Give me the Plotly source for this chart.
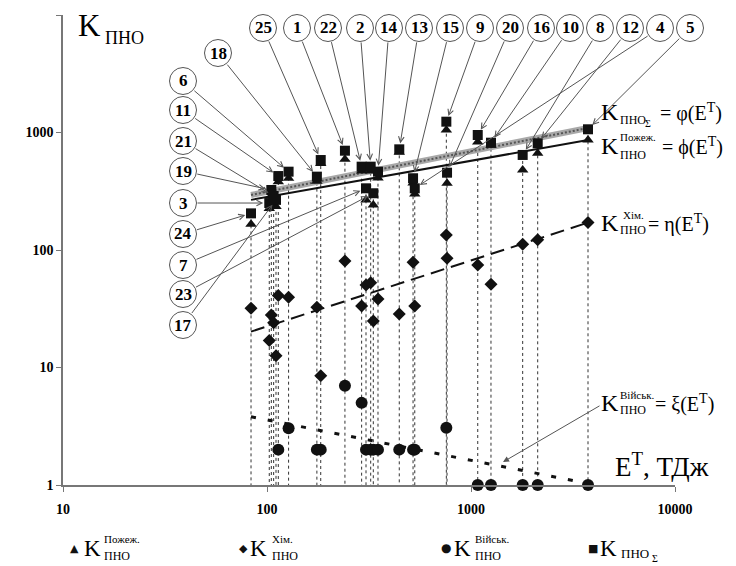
import numpy as np
import plotly.graph_objects as go

# ---------------- data ----------------
labels = ["24", "3", "19", "21", "17", "11", "6", "18", "25", "1", "22", "7", "2",
          "23", "14", "13", "15", "4", "9", "20", "16", "10", "8", "12", "5"]
energy = [83.5, 102.6, 105.0, 107.8, 110.7, 113.6, 127.6, 175.6, 183.4, 241, 291,
          305.7, 322.3, 332, 350, 445, 520, 530, 757, 763, 1079, 1253, 1792, 2123, 3746]
k_sum = [205, 251, 324, 288, 267, 426, 464, 421, 583, 700, 512, 335, 512,
         304, 464, 719, 408, 335, 1236, 455, 952, 819, 644, 809, 1065]
k_fire = [166, 225, 290, 260, 235, 381, 408, 385, 545, 591, 470, 267, 470,
          242, 410, 680, 372, 300, 1050, 370, 830, 780, 480, 665, 863]
k_chem = [32, 17, 28, 24, 12.6, 41, 39.6, 32.5, 8.5, 80.6, 33.4, 50.4, 52.7,
          24.9, 38.3, 28.5, 78.6, 33.4, 134, 85, 74.5, 51, 112, 122, 171]
k_mil = [None, None, None, None, None, 2, 3.04, 2, 2, 7, 5, 2, 2,
         2, 2, 2, 2, 2, 3.07, None, 1, 1, 1, 1, 1]

trend_x = [83.5, 3746]
trend_sum = [294, 1092]
trend_fire = [267, 863]
trend_chem = [20.2, 171]
trend_mil = [3.81, 1.03]

x_ticks = [10, 100, 1000, 10000]
y_ticks = [1, 10, 100, 1000, 10000]

# label circle centres (window pixels)
label_pos = {
    "18": (218, 53), "6": (183, 81), "11": (183, 110), "21": (183, 141),
    "19": (183, 171), "3": (183, 203), "24": (183, 234), "7": (183, 265),
    "23": (183, 294), "17": (183, 325),
    "25": (263, 28), "1": (297, 28), "22": (328, 28), "2": (360, 28),
    "14": (389, 28), "13": (419, 28), "15": (450, 28), "9": (480, 28),
    "20": (510, 28), "16": (541, 28), "10": (570, 28), "8": (600, 28),
    "12": (630, 28), "4": (660, 28), "5": (690, 28),
}

# ---------------- layout geometry ----------------
OFF = 8                      # page body margin
PL, PR, PT, PB = 63, 675, 15, 485   # plot area in window pixels
W, H = 736 - OFF, 566 - OFF
pw, ph = PR - PL, PB - PT

def px_x(v):
    return PL + pw * (np.log10(v) - 1) / 3

def px_y(v):
    return PT + ph * (4 - np.log10(v)) / 4

def pap_x(p):
    return (p - PL) / pw

def pap_y(p):
    return (PB - p) / ph

SERIF = "Liberation Serif"
INK = "#111111"

fig = go.Figure()

# vertical dotted drop lines
dx, dy = [], []
for e, s in zip(energy, k_sum):
    dx += [e, e, None]
    dy += [s, 1, None]
fig.add_trace(go.Scatter(x=dx, y=dy, mode="lines",
                         line=dict(color="#333333", width=1, dash="dot"),
                         hoverinfo="skip", showlegend=False))

# trend lines
fig.add_trace(go.Scatter(x=trend_x, y=trend_chem, mode="lines",
                         line=dict(color=INK, width=2, dash="14px,7px"), showlegend=False))
fig.add_trace(go.Scatter(x=trend_x, y=trend_mil, mode="lines",
                         line=dict(color=INK, width=3, dash="5px,12px"), showlegend=False))
fig.add_trace(go.Scatter(x=trend_x, y=trend_fire, mode="lines",
                         line=dict(color=INK, width=2), showlegend=False))
fig.add_trace(go.Scatter(x=trend_x, y=trend_sum, mode="lines",
                         line=dict(color="#a8a8a8", width=6), showlegend=False))
fig.add_trace(go.Scatter(x=trend_x, y=trend_sum, mode="lines",
                         line=dict(color="#555555", width=2, dash="2px,2px"), showlegend=False))

# markers
fig.add_trace(go.Scatter(x=energy, y=k_chem, mode="markers",
                         marker=dict(symbol="diamond", size=10, color=INK), showlegend=False))
fig.add_trace(go.Scatter(x=energy, y=k_mil, mode="markers", cliponaxis=False,
                         marker=dict(symbol="circle", size=12, color=INK), showlegend=False))
fig.add_trace(go.Scatter(x=energy, y=k_fire, mode="markers",
                         marker=dict(symbol="triangle-up", size=10, color=INK), showlegend=False))
fig.add_trace(go.Scatter(x=energy, y=k_sum, mode="markers",
                         marker=dict(symbol="square", size=10, color=INK), showlegend=False))

annotations = []
shapes = []

# numbered labels with arrows
for lab, e, s in zip(labels, energy, k_sum):
    lx, ly = label_pos[lab]
    tx, ty = px_x(e), px_y(s)
    annotations.append(dict(x=np.log10(e), y=np.log10(s), xref="x", yref="y",
                            ax=lx - tx, ay=ly - ty, axref="pixel", ayref="pixel",
                            text="", showarrow=True, arrowhead=5, arrowsize=1.1,
                            arrowwidth=1, arrowcolor="#555555", standoff=6,
                            startstandoff=13))
    shapes.append(dict(type="circle", xref="paper", yref="paper",
                       xsizemode="pixel", ysizemode="pixel",
                       xanchor=pap_x(lx), yanchor=pap_y(ly),
                       x0=-13.5, x1=13.5, y0=-13.5, y1=13.5,
                       line=dict(color="#555555", width=1), fillcolor="white",
                       layer="above"))
    annotations.append(dict(x=pap_x(lx), y=pap_y(ly), xref="paper", yref="paper",
                            text="<b>%s</b>" % lab, showarrow=False,
                            xanchor="center", yanchor="middle",
                            font=dict(family=SERIF, size=17, color="black")))


def txt(px, py, text, size, anchor="left", color="black"):
    annotations.append(dict(x=pap_x(px), y=pap_y(py), xref="paper", yref="paper",
                            text=text, showarrow=False, xanchor=anchor,
                            yanchor="middle",
                            font=dict(family=SERIF, size=size, color=color)))

# axis titles
txt(89, 26, "K", 31, "center")
txt(103, 38, "ПНО", 18)
txt(613, 465, "E<sup>T</sup>, ТДж", 27)

# right-hand formulas
txt(610, 112, "K", 24, "center")
txt(618, 120, "ПНО", 12)
txt(643, 124, "Σ", 10)
txt(658, 112, "= φ(E<sup>T</sup>)", 20)

txt(610, 146, "K", 24, "center")
txt(618, 137, "Пожеж.", 11)
txt(618, 155, "ПНО", 12)
txt(660, 146, "= ϕ(E<sup>T</sup>)", 20)

txt(610, 223, "K", 24, "center")
txt(621, 215, "Хім.", 11)
txt(618, 230, "ПНО", 12)
txt(646, 223, "= η(E<sup>T</sup>)", 20)

txt(610, 403, "K", 24, "center")
txt(618, 395, "Військ.", 11)
txt(618, 410, "ПНО", 12)
txt(653, 403, "= ξ(E<sup>T</sup>)", 20)

annotations.append(dict(x=pap_x(503), y=pap_y(462), xref="paper", yref="paper",
                        ax=98, ay=-57, axref="pixel", ayref="pixel", text="",
                        showarrow=True, arrowhead=2, arrowsize=1.2, arrowwidth=1,
                        arrowcolor="#555555"))

# legend row
LY = 548
def glyph(px, g, size):
    annotations.append(dict(x=pap_x(px), y=pap_y(LY), xref="paper", yref="paper",
                            text=g, showarrow=False, xanchor="center",
                            yanchor="middle",
                            font=dict(family="DejaVu Sans", size=size, color=INK)))

glyph(74, "▲", 11)
txt(92, LY, "K", 23, "center")
txt(102, LY - 9, "Пожеж.", 11)
txt(102, LY + 8, "ПНО", 12)

glyph(243, "◆", 11)
txt(259, LY, "K", 23, "center")
txt(270, LY - 9, "Хім.", 11)
txt(270, LY + 8, "ПНО", 12)

glyph(446, "●", 12)
txt(462, LY, "K", 23, "center")
txt(473, LY - 9, "Військ.", 11)
txt(473, LY + 8, "ПНО", 12)

glyph(593, "■", 11)
txt(608, LY, "K", 23, "center")
txt(619, LY + 5, "ПНО", 13)
txt(650, LY + 10, "Σ", 10)

fig.update_layout(
    width=W, height=H,
    margin=dict(l=PL - OFF, r=W - (PR - OFF), t=PT - OFF, b=H - (PB - OFF), pad=0),
    paper_bgcolor="white", plot_bgcolor="white",
    showlegend=False,
    annotations=annotations, shapes=shapes,
    xaxis=dict(type="log", range=[1, 4], showgrid=False, zeroline=False,
               showline=True, linecolor="#777777", linewidth=1.5,
               ticks="outside", ticklen=5, tickcolor="#777777",
               tickvals=x_ticks, ticktext=[str(v) for v in x_ticks],
               ticklabelstandoff=5,
               tickfont=dict(family=SERIF, size=14, color="black", weight="bold")),
    yaxis=dict(type="log", range=[0, 4], showgrid=False, zeroline=False,
               showline=True, linecolor="#777777", linewidth=1.5,
               ticks="outside", ticklen=5, tickcolor="#777777",
               tickvals=y_ticks, ticktext=[str(v) for v in y_ticks],
               tickfont=dict(family=SERIF, size=14, color="black", weight="bold")),
)

fig.write_html("out.html")
